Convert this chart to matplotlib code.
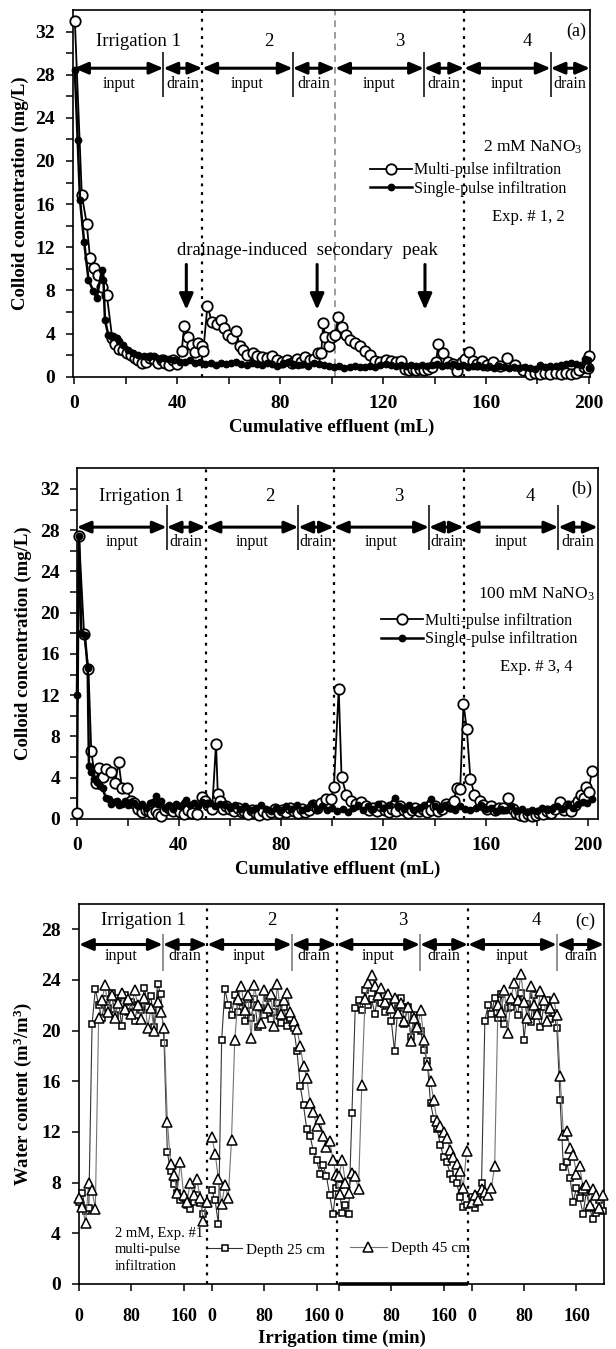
import matplotlib
matplotlib.use("Agg")
import matplotlib.pyplot as plt
from matplotlib.lines import Line2D

plt.rcParams["font.family"] = ["Liberation Serif", "DejaVu Serif"]
plt.rcParams["mathtext.fontset"] = "custom"
plt.rcParams["mathtext.rm"] = "Liberation Serif"
plt.rcParams["mathtext.bf"] = "Liberation Serif:bold"
plt.rcParams["mathtext.default"] = "regular"

# ---------------- panel (a): 2 mM NaNO3 ----------------
a_multi_x = [0.3, 3.0, 4.9, 6.2, 7.8, 9.4, 11.0, 12.7, 14.8, 16.0, 17.5, 19.0, 20.5, 22.0, 23.5,
             25.0, 26.5, 28.0, 29.5, 31.0, 32.5, 34.0, 35.5, 37.0, 38.5, 40.0, 41.8, 42.8, 44.4,
             45.7, 47.0, 48.3, 49.6, 50.2, 51.8, 53.5, 55.4, 57.1, 58.3, 59.9, 61.5, 62.8, 64.5,
             65.8, 67.1, 69.6, 71.0, 72.9, 74.8, 76.8, 78.7, 80.6, 82.6, 84.5, 86.5, 88.0, 89.7,
             91.5, 93.0, 94.7, 96.0, 96.8, 97.5, 98.9, 100.3, 101.4, 102.6, 104.2, 105.6, 107.2,
             109.1, 111.1, 113.0, 115.0, 117.0, 119.0, 121.0, 123.0, 125.0, 127.0, 128.5, 130.0,
             131.5, 133.0, 134.5, 136.0, 137.5, 139.0, 140.6, 141.5, 143.4, 145.3, 147.0, 148.6,
             150.6, 152.0, 153.5, 155.0, 156.6, 158.3, 160.2, 162.8, 165.4, 168.3, 171.2, 174.5,
             177.1, 179.0, 181.0, 183.0, 185.0, 187.0, 189.0, 191.0, 193.0, 195.0, 196.2, 198.1,
             199.7, 200.2]
a_multi_y = [33.0, 16.85, 14.2, 11.0, 10.1, 9.4, 8.3, 7.6, 3.6, 3.0, 2.6, 2.5, 2.2, 2.0, 1.7,
             1.5, 1.3, 1.4, 1.7, 1.6, 1.3, 1.5, 1.3, 1.1, 1.5, 1.2, 2.4, 4.7, 3.7,
             2.9, 2.3, 3.1, 2.8, 2.4, 6.55, 5.1, 4.9, 5.25, 4.5, 3.9, 3.55, 4.2, 2.8,
             2.5, 2.0, 2.2, 1.95, 1.8, 1.7, 1.95, 1.5, 1.4, 1.5, 1.3, 1.6, 1.4, 1.85,
             1.5, 1.6, 2.15, 2.2, 5.0, 3.7, 2.8, 3.7, 3.9, 5.5, 4.6, 3.9, 3.4,
             3.15, 2.8, 2.4, 2.0, 1.45, 1.4, 1.5, 1.45, 1.4, 1.45, 0.7, 0.65,
             0.7, 0.6, 0.7, 0.65, 0.75, 0.9, 1.4, 3.0, 2.15, 1.4, 1.2, 0.55,
             1.4, 1.6, 2.3, 1.45, 1.2, 1.45, 1.1, 1.4, 1.0, 1.7, 1.1, 0.65,
             0.2, 0.3, 0.25, 0.35, 0.2, 0.3, 0.25, 0.3, 0.2, 0.35, 0.6, 0.9,
             0.77, 1.9]

a_single_x = [0.3, 1.4, 2.3, 3.9, 5.6, 7.5, 8.8, 10.8, 11.4, 12.0, 13.3, 14.6, 16.6, 17.6, 19.0,
              21.0, 23.0, 25.0, 27.0, 29.0, 31.0, 33.0, 35.0, 37.0, 39.0, 41.0, 43.0, 45.0,
              47.0, 49.0, 51.0, 53.0, 55.0, 57.0, 59.0, 61.0, 63.0, 65.0, 67.0, 69.0, 71.0,
              73.0, 75.0, 77.0, 79.0, 81.0, 83.0, 85.0, 87.0, 89.0, 91.0, 93.0, 95.0, 97.0,
              99.0, 101.0, 103.0, 105.0, 107.0, 109.0, 111.0, 113.0, 115.0, 117.0, 119.0, 121.0,
              123.0, 125.0, 127.0, 129.0, 131.0, 133.0, 135.0, 137.0, 139.0, 141.0, 143.0,
              145.0, 147.0, 149.0, 151.0, 153.0, 155.0, 157.0, 159.0, 161.0, 163.0, 165.0,
              167.0, 169.0, 171.0, 173.0, 175.0, 177.0, 179.0, 181.0, 183.0, 185.0, 187.0,
              189.0, 191.0, 193.0, 195.0, 197.0, 198.5, 199.5, 200.2]
a_single_y = [28.4, 21.9, 16.4, 12.5, 9.0, 7.9, 7.3, 9.9, 9.0, 5.25, 3.85, 3.7, 3.55, 3.3, 2.9,
              2.5, 2.2, 2.0, 1.9, 1.8, 1.9, 1.6, 1.7, 1.6, 1.5, 1.4, 1.4, 1.5,
              1.3, 1.35, 1.2, 1.3, 1.1, 1.3, 1.2, 1.3, 1.4, 1.2, 1.1, 1.3, 1.2,
              1.1, 1.3, 1.2, 1.0, 1.3, 1.4, 1.2, 1.1, 1.2, 1.0, 1.3, 1.2, 1.1,
              1.0, 0.9, 1.0, 0.8, 0.9, 1.0, 0.9, 0.85, 1.0, 0.9, 1.1, 1.2,
              1.1, 1.0, 1.1, 1.0, 1.05, 0.95, 1.1, 1.0, 1.1, 1.2, 1.0,
              1.1, 1.2, 1.0, 1.1, 0.9, 1.0, 1.1, 0.9, 1.0, 0.8, 1.0,
              0.9, 0.8, 0.85, 0.8, 0.9, 0.8, 0.75, 1.1, 0.9, 1.0, 1.0,
              1.1, 1.2, 1.3, 1.2, 1.1, 1.6, 1.5, 0.8]

a_bounds = [0, 34.7, 49.8, 84.9, 101.4, 135.9, 151.5, 185.1, 200.4]
a_peak_arrows = [43.6, 94.4, 136.3]

# ---------------- panel (b): 100 mM NaNO3 ----------------
b_multi_x = [0.2, 0.9, 2.9, 4.6, 5.7, 7.4, 8.7, 10.1, 11.5, 13.3, 15.0, 16.4, 17.7, 19.8, 21.2,
             22.5, 24.0, 25.5, 27.0, 28.2, 29.5, 30.9, 32.0, 33.0, 34.5, 36.0, 37.5, 39.2, 40.5,
             42.0, 43.5, 45.0, 46.9, 48.9, 50.3, 51.5, 53.0, 54.5, 55.2, 55.9, 57.2, 58.5, 60.0,
             61.5, 63.0, 64.5, 65.6, 67.0, 68.5, 70.0, 71.5, 73.0, 74.5, 76.0, 77.5, 79.0, 80.5,
             82.0, 83.5, 85.0, 86.5, 88.0, 89.5, 91.0, 92.5, 94.0, 95.5, 97.5, 99.6, 100.6, 102.5,
             103.6, 105.5, 107.2, 109.3, 111.2, 113.0, 114.5, 116.0, 117.5, 119.0, 120.5, 122.0,
             123.5, 125.0, 126.5, 128.0, 129.5, 131.0, 132.5, 134.0, 135.5, 137.0, 138.5, 140.0,
             141.5, 143.0, 144.5, 146.0, 147.4, 148.8, 150.0, 151.3, 152.6, 154.0, 155.6, 157.7,
             159.0, 160.5, 162.0, 163.5, 165.0, 166.9, 168.9, 170.5, 172.0, 173.5, 175.0, 176.5,
             178.0, 179.5, 181.0, 182.5, 184.0, 185.5, 187.0, 189.0, 190.5, 192.0, 193.5, 195.0,
             195.9, 197.3, 198.5, 199.4, 200.2, 201.5]
b_multi_y = [0.55, 27.4, 17.9, 14.5, 6.6, 3.5, 4.9, 4.1, 4.8, 4.5, 3.45, 5.5, 2.97, 2.97, 1.75,
             1.5, 0.95, 0.7, 0.9, 0.8, 0.6, 0.8, 0.5, 0.3, 0.9, 1.1, 0.8, 1.1, 0.7,
             0.45, 0.9, 0.6, 0.45, 2.1, 1.75, 1.3, 1.0, 7.3, 2.4, 1.75, 0.95, 1.2, 1.0,
             0.8, 1.1, 0.7, 0.8, 0.5, 0.9, 0.6, 0.4, 0.8, 0.5, 0.7, 1.0, 0.6, 0.9,
             0.7, 1.1, 0.8, 0.6, 1.0, 0.7, 0.9, 1.3, 1.1, 1.5, 1.9, 1.9, 3.1, 12.6,
             4.1, 2.3, 1.75, 1.4, 1.6, 1.2, 0.9, 1.1, 0.8, 1.2, 0.9, 0.7,
             1.0, 0.8, 1.2, 0.9, 0.6, 0.9, 1.1, 0.8, 1.0, 0.7, 0.9, 1.2,
             0.8, 1.0, 1.4, 1.2, 1.75, 3.0, 2.9, 11.1, 8.7, 3.9, 2.3, 1.75,
             1.3, 1.0, 1.2, 0.9, 1.1, 1.1, 2.05, 1.0, 0.6, 0.4, 0.3, 0.5,
             0.3, 0.4, 0.6, 0.5, 0.8, 0.6, 1.0, 1.6, 0.9, 1.2, 0.8, 1.3,
             1.75, 2.3, 2.0, 3.1, 2.6, 4.6]

b_single_x = [0.1, 0.9, 1.8, 3.2, 4.3, 4.8, 5.7, 6.7, 8.0, 9.0, 10.1, 11.5, 12.5, 13.6, 14.6,
              15.7, 16.7, 17.7, 19.0, 20.2, 21.2, 22.5, 24.0, 25.5, 27.0, 28.5, 30.0, 30.9, 32.0,
              33.0, 34.5, 36.0, 37.5, 39.0, 40.5, 42.0, 42.7, 44.5, 46.0, 47.5, 49.0, 50.5, 52.0,
              54.0, 56.0, 58.0, 60.0, 62.0, 64.0, 66.0, 68.0, 70.0, 72.0, 74.0, 76.0, 78.0, 80.0,
              82.0, 84.0, 86.0, 88.0, 90.0, 92.0, 94.0, 96.0, 98.0, 100.0, 102.0, 104.0, 106.0,
              108.0, 110.0, 112.0, 114.0, 116.0, 118.0, 120.0, 122.0, 124.5, 126.0, 128.0, 130.0,
              132.0, 134.0, 136.0, 138.4, 140.0, 142.0, 144.0, 146.0, 148.0, 150.0, 152.0, 154.0,
              156.0, 158.0, 160.0, 162.0, 164.0, 166.0, 168.0, 170.0, 172.0, 174.0, 176.0, 178.0,
              180.0, 182.0, 184.0, 186.0, 188.0, 190.0, 192.0, 194.0, 196.0, 198.0, 199.5, 201.5]
b_single_y = [12.0, 27.4, 18.0, 17.8, 14.6, 5.1, 4.5, 3.9, 3.6, 3.2, 2.95, 2.0, 1.9, 1.45, 1.6,
              1.75, 1.3, 1.45, 1.7, 1.3, 1.6, 1.5, 1.2, 1.4, 1.1, 1.5, 1.6, 2.2, 1.4,
              1.75, 1.1, 1.3, 1.0, 1.4, 1.2, 1.5, 1.8, 1.3, 1.5, 1.2, 1.6, 1.4, 1.5,
              1.2, 1.4, 1.3, 1.1, 1.3, 1.0, 1.2, 0.9, 1.1, 1.3, 1.0, 0.8, 1.1, 0.9,
              1.2, 1.0, 1.3, 0.9, 1.1, 1.4, 1.0, 1.2, 0.9, 1.1, 0.8, 1.0, 0.7,
              1.1, 1.3, 0.9, 1.2, 1.0, 1.4, 1.1, 1.3, 2.05, 1.2, 1.0, 1.3,
              0.9, 1.1, 1.3, 1.95, 1.2, 1.0, 1.3, 1.1, 0.9, 1.2, 1.0, 0.9,
              1.1, 1.3, 1.0, 1.1, 0.8, 1.0, 0.9, 1.2, 0.8, 1.0, 0.7, 0.9,
              0.8, 1.1, 0.9, 1.0, 1.2, 1.0, 1.3, 1.1, 1.4, 1.6, 1.5, 1.9]

b_bounds = [0, 35.2, 50.4, 86.7, 100.6, 137.8, 151.4, 188.4, 203.8]

# ---------------- panel (c): water content, 2 mM, Exp. #1 ----------------
c_time = [0, 5, 10, 15, 20, 25, 30, 35, 40, 45, 50, 55, 60, 65, 70, 75, 80, 85, 90, 95, 100,
          105, 110, 115, 120, 125, 130, 135, 140, 145, 150, 155, 160, 165, 170, 175, 180,
          185, 190, 195, 200]
c_offsets = [0, 203, 397, 600]
c_tick_min = [0, 80, 160]

c1_d25 = [6.5, 7.2, 5.8, 6.0, 20.5, 23.3, 22.0, 21.0, 22.5, 21.8, 23.0, 21.2, 22.6, 20.4, 22.8,
          21.5, 22.3, 20.8, 22.0, 21.6, 23.4, 21.9, 22.7, 20.3, 23.7, 22.9, 19.0, 10.4, 8.9,
          7.9, 7.2, 6.6, 6.8, 6.2, 5.9, 6.5, 7.0, 6.4, 5.5, 6.3]
c1_d45 = [6.8, 6.1, 4.8, 8.0, 7.4, 5.9, 21.0, 22.4, 23.6, 21.5, 22.8, 21.0, 22.2, 23.0, 21.7,
          22.5, 21.3, 23.2, 22.0, 20.9, 22.6, 20.2, 21.8, 20.0, 22.3, 21.5, 20.2, 12.8, 9.5,
          8.6, 7.2, 9.6, 7.0, 6.5, 8.0, 7.0, 8.3, 6.8, 5.0, 6.5]
c2_d25 = [7.4, 6.6, 4.7, 19.3, 23.3, 22.0, 21.2, 22.8, 21.5, 22.3, 20.8, 22.0, 21.0, 22.5, 20.3,
          21.8, 21.2, 22.6, 20.9, 21.5, 22.2, 20.6, 21.9, 20.4, 21.0, 20.2, 18.4, 15.6, 14.1,
          12.2, 11.7, 10.5, 9.8, 8.7, 9.4, 8.5, 7.0, 5.5, 7.6]
c2_d45 = [11.6, 10.3, 8.3, 6.3, 7.8, 6.8, 11.4, 19.3, 22.5, 23.5, 21.6, 22.8, 19.4, 23.6, 22.0,
          20.6, 23.2, 21.8, 22.9, 20.4, 23.7, 21.3, 22.4, 23.0, 21.5, 20.8, 20.1, 18.8, 17.2,
          16.3, 14.3, 13.6, 12.5, 13.0, 11.7, 10.8, 11.3, 9.8, 8.6, 7.1]
c3_d25 = [7.8, 5.6, 6.2, 5.5, 13.5, 21.8, 22.4, 21.6, 23.2, 22.0, 22.5, 21.3, 23.0, 22.2, 21.5,
          22.4, 20.8, 18.4, 21.8, 22.6, 20.5, 21.9, 19.5, 21.2, 20.3, 20.0, 18.5, 17.6, 14.3,
          13.0, 12.2, 11.0, 10.0, 9.6, 8.7, 8.3, 8.0, 6.9, 6.1, 6.2]
c3_d45 = [8.5, 9.8, 8.0, 7.2, 8.8, 8.5, 7.5, 15.7, 22.5, 23.8, 24.4, 23.5, 22.8, 23.4, 22.3,
          22.9, 21.8, 22.6, 21.4, 22.2, 20.8, 21.9, 19.2, 21.0, 20.3, 21.6, 19.3, 17.3, 16.0,
          14.5, 12.9, 12.5, 12.0, 11.5, 10.6, 10.0, 9.5, 8.9, 7.6, 10.5]
c4_d25 = [6.9, 6.0, 7.0, 8.0, 20.8, 22.0, 21.3, 22.6, 21.0, 22.9, 20.5, 21.8, 21.9, 22.3, 21.2,
          23.0, 19.3, 22.1, 20.7, 22.8, 21.5, 20.3, 21.9, 22.4, 20.9, 21.4, 20.2, 14.5, 9.2,
          9.6, 8.4, 6.5, 7.6, 6.8, 5.5, 7.3, 6.0, 5.1, 5.6, 6.6, 5.8]
c4_d45 = [6.5, 7.0, 6.6, 7.5, 7.3, 7.0, 7.6, 9.3, 22.0, 21.5, 23.2, 19.8, 22.6, 23.8, 22.4,
          24.5, 22.3, 21.0, 23.5, 22.0, 21.3, 23.1, 22.4, 20.8, 21.8, 22.6, 21.2, 16.4, 11.8,
          12.1, 10.7, 10.2, 8.7, 9.3, 7.6, 7.8, 6.2, 7.5, 7.0, 6.0, 7.0]
c_d25 = [c1_d25, c2_d25, c3_d25, c4_d25]
c_d45 = [c1_d45, c2_d45, c3_d45, c4_d45]

c_bounds = [0, 128, 196, 325, 393.4, 521, 594.4, 730, 802]

DOT = (0, (1.3, 2.6))


def harrow(ax, x0, x1, y):
    ax.annotate("", xy=(x1, y), xytext=(x0, y), annotation_clip=False,
                arrowprops=dict(arrowstyle="<|-|>,head_length=0.75,head_width=0.32",
                                color="k", lw=2.2, shrinkA=0, shrinkB=0, mutation_scale=11))


def draw_phases(ax, bounds, y_arr, y_lab, y_irr, bar, bar_color, fs_lab, fs_irr,
                line_styles):
    for i in range(4):
        x0, xb, x1 = bounds[2 * i], bounds[2 * i + 1], bounds[2 * i + 2]
        harrow(ax, x0, xb, y_arr)
        harrow(ax, xb, x1, y_arr)
        ax.vlines(xb, bar[0], bar[1], color=bar_color, lw=1.1)
        ax.text((x0 + xb) / 2, y_lab, "input", ha="center", va="center", fontsize=fs_lab)
        ax.text((xb + x1) / 2, y_lab, "drain", ha="center", va="center", fontsize=fs_lab)
        ax.text((x0 + x1) / 2, y_irr, "Irrigation 1" if i == 0 else str(i + 1),
                ha="center", va="center", fontsize=fs_irr)
    for k, st in zip([2, 4, 6], line_styles):
        ax.axvline(bounds[k], **st)


def style(ax):
    for sp in ax.spines.values():
        sp.set_linewidth(1.2)
    ax.tick_params(which="both", direction="out", length=5, width=1.1)


fig = plt.figure(figsize=(6.16, 13.49), dpi=100)

dot_k = dict(color="k", ls=DOT, lw=1.6)
dash_g = dict(color="0.55", ls=(0, (4, 3)), lw=1.2)

# ======== (a) ========
ax = fig.add_axes([0.119, 0.7208, 0.8388, 0.2718])
ax.plot(a_multi_x, a_multi_y, color="k", lw=1.3, marker="o", ms=7.5, mfc="white",
        mec="k", mew=1.3, clip_on=False, zorder=3)
ax.plot(a_single_x, a_single_y, color="k", lw=1.8, marker="o", ms=4.6, mfc="k",
        mec="k", clip_on=False, zorder=4)
ax.set_xlim(-0.3, 200.4)
ax.set_ylim(0, 34)
ax.set_xticks(range(0, 201, 40), labels=[str(v) for v in range(0, 201, 40)],
              fontsize=14, fontweight="bold")
ax.set_xticks(range(20, 201, 40), minor=True)
ax.set_yticks(range(0, 33, 4), labels=[str(v) for v in range(0, 33, 4)],
              fontsize=14, fontweight="bold")
ax.set_yticks(range(2, 34, 4), minor=True)
style(ax)
ax.tick_params(axis="x", pad=8)
ax.tick_params(axis="y", pad=8)
draw_phases(ax, a_bounds, 28.6, 27.1, 31.1, (25.9, 30.1), "k", 11.5, 13.5,
            [dot_k, dash_g, dot_k])
ax.text(195.2, 32.0, "(a)", ha="center", va="center", fontsize=13)
ax.text(197.5, 21.3, "2 mM NaNO$_3$", ha="right", va="center", fontsize=12.5)
ax.text(190.5, 14.8, "Exp. # 1, 2", ha="right", va="center", fontsize=12)
ax.text(90.5, 11.7, "drainage-induced  secondary  peak", ha="center", va="center",
        fontsize=13.5)
for xa in a_peak_arrows:
    ax.annotate("", xy=(xa, 6.2), xytext=(xa, 10.4),
                arrowprops=dict(arrowstyle="-|>,head_length=0.8,head_width=0.35",
                                color="k", lw=2.2, shrinkA=0, shrinkB=0, mutation_scale=12))
leg_handles = [
    Line2D([], [], color="k", lw=1.3, marker="o", ms=7.5, mfc="white", mec="k", mew=1.3),
    Line2D([], [], color="k", lw=1.8, marker="o", ms=4.6, mfc="k", mec="k"),
]
ax.legend(leg_handles, ["Multi-pulse infiltration", "Single-pulse infiltration"],
          loc="upper left", bbox_to_anchor=(0.575, 0.585), frameon=False, fontsize=11.5,
          handlelength=2.6, handletextpad=0.15, labelspacing=0.15, borderpad=0,
          borderaxespad=0)
ax.set_xlabel("Cumulative effluent (mL)", fontsize=13.5, fontweight="bold")
ax.xaxis.set_label_coords(0.5, -0.115)
ax.set_ylabel("Colloid concentration (mg/L)", fontsize=13.5, fontweight="bold")
ax.yaxis.set_label_coords(-0.085, 0.5)

# ======== (b) ========
ax = fig.add_axes([0.1245, 0.393, 0.8458, 0.2598])
ax.plot(b_multi_x, b_multi_y, color="k", lw=1.3, marker="o", ms=7.5, mfc="white",
        mec="k", mew=1.3, clip_on=False, zorder=3)
ax.plot(b_single_x, b_single_y, color="k", lw=1.8, marker="o", ms=4.6, mfc="k",
        mec="k", clip_on=False, zorder=4)
ax.set_xlim(0, 203.8)
ax.set_ylim(0, 34)
ax.set_xticks(range(0, 201, 40), labels=[str(v) for v in range(0, 201, 40)],
              fontsize=14, fontweight="bold")
ax.set_xticks(range(20, 201, 40), minor=True)
ax.set_yticks(range(0, 33, 4), labels=[str(v) for v in range(0, 33, 4)],
              fontsize=14, fontweight="bold")
ax.set_yticks(range(2, 34, 4), minor=True)
style(ax)
ax.tick_params(axis="x", pad=8)
ax.tick_params(axis="y", pad=7)
draw_phases(ax, b_bounds, 28.3, 26.9, 31.3, (26.1, 30.4), "k", 11.5, 13.5,
            [dot_k, dot_k, dot_k])
ax.text(197.4, 32.0, "(b)", ha="center", va="center", fontsize=13)
ax.text(202.5, 21.8, "100 mM NaNO$_3$", ha="right", va="center", fontsize=12.5)
ax.text(194.0, 14.7, "Exp. # 3, 4", ha="right", va="center", fontsize=12)
ax.legend(leg_handles, ["Multi-pulse infiltration", "Single-pulse infiltration"],
          loc="upper left", bbox_to_anchor=(0.585, 0.588), frameon=False, fontsize=11.5,
          handlelength=2.6, handletextpad=0.15, labelspacing=0.15, borderpad=0,
          borderaxespad=0)
ax.set_xlabel("Cumulative effluent (mL)", fontsize=13.5, fontweight="bold")
ax.xaxis.set_label_coords(0.5, -0.118)
ax.set_ylabel("Colloid concentration (mg/L)", fontsize=13.5, fontweight="bold")
ax.yaxis.set_label_coords(-0.085, 0.5)

# ======== (c) ========
ax = fig.add_axes([0.1282, 0.0482, 0.8523, 0.2817])
for off, d25, d45 in zip(c_offsets, c_d25, c_d45):
    ax.plot([off + t for t in c_time[:len(d25)]], d25, color="0.2", lw=0.8, marker="s",
            ms=4.6, mfc="white", mec="k", mew=1.1, clip_on=False, zorder=3)
    ax.plot([off + t for t in c_time[:len(d45)]], d45, color="0.45", lw=0.8, marker="^",
            ms=6.5, mfc="white", mec="k", mew=1.1, clip_on=False, zorder=4)
ax.set_xlim(c_bounds[0], c_bounds[-1])
ax.set_ylim(0, 30)
ax.set_xticks([off + m for off in c_offsets for m in c_tick_min],
              labels=[str(m) for off in c_offsets for m in c_tick_min],
              fontsize=13, fontweight="bold")
ax.set_yticks(range(0, 29, 4), labels=[str(v) for v in range(0, 29, 4)],
              fontsize=14, fontweight="bold")
style(ax)
ax.tick_params(axis="x", pad=12)
ax.tick_params(axis="y", pad=8)
draw_phases(ax, c_bounds, 26.8, 25.9, 28.7, (24.7, 27.6), "0.45", 11.5, 13.5,
            [dot_k, dot_k, dot_k])
ax.plot([c_offsets[2], c_bounds[6]], [0, 0], color="k", lw=2.6, clip_on=False,
        solid_capstyle="butt", zorder=5)
ax.text(773, 28.6, "(c)", ha="center", va="center", fontsize=13)
ax.text(55, 2.7, "2 mM, Exp. #1\nmulti-pulse\ninfiltration", ha="left", va="center",
        fontsize=10.5, linespacing=1.35)
h25 = Line2D([], [], color="0.2", lw=0.8, marker="s", ms=4.6, mfc="white", mec="k", mew=1.1)
h45 = Line2D([], [], color="0.45", lw=0.8, marker="^", ms=6.5, mfc="white", mec="k", mew=1.1)
lg = ax.legend([h25], ["Depth 25 cm"], loc="center left", bbox_to_anchor=(0.246, 0.09),
               frameon=False, fontsize=11, handlelength=2.2, handletextpad=0.3,
               borderpad=0, borderaxespad=0)
ax.add_artist(lg)
ax.legend([h45], ["Depth 45 cm"], loc="center left", bbox_to_anchor=(0.516, 0.093),
          frameon=False, fontsize=11, handlelength=2.4, handletextpad=0.3,
          borderpad=0, borderaxespad=0)
ax.set_xlabel("Irrigation time (min)", fontsize=13.5, fontweight="bold")
ax.xaxis.set_label_coords(0.5, -0.12)
ax.set_ylabel("Water content (m$^3$/m$^3$)", fontsize=13.5, fontweight="bold")
ax.yaxis.set_label_coords(-0.085, 0.5)

fig.savefig("out.png", dpi=100)
